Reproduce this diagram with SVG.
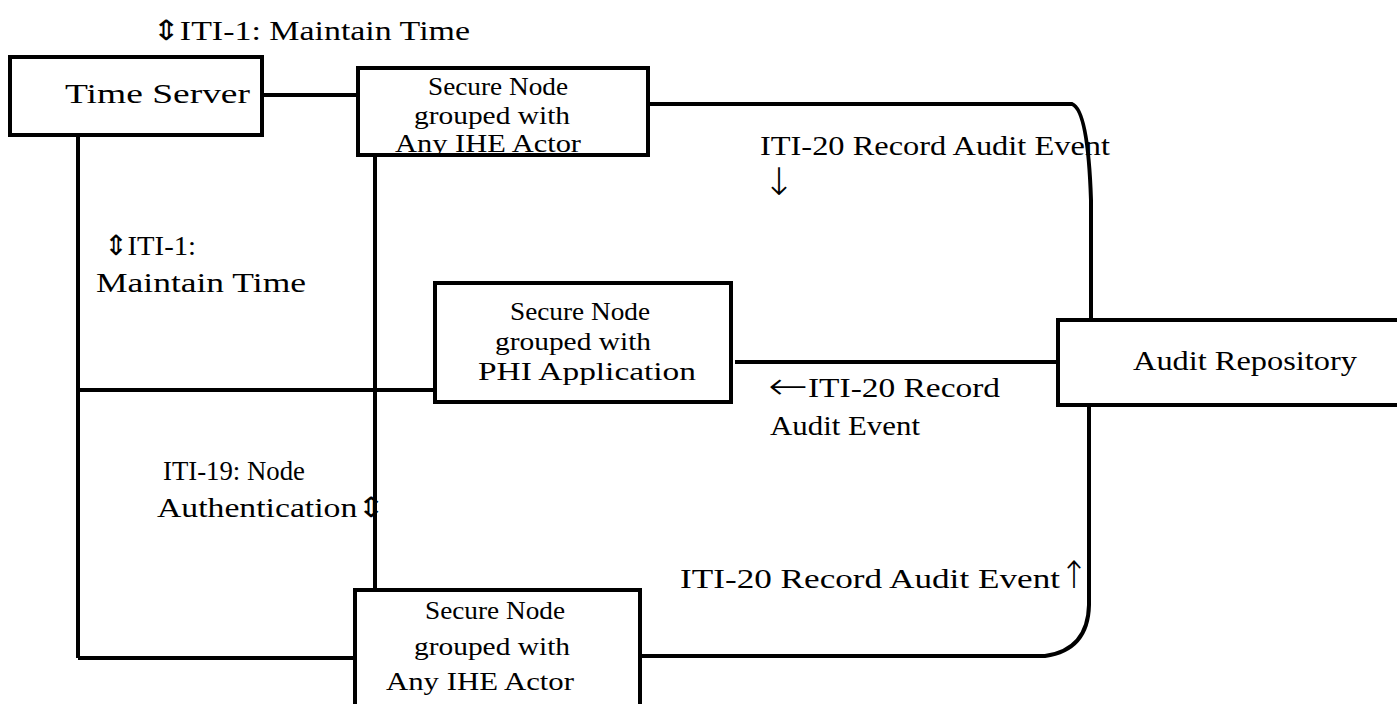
<svg xmlns="http://www.w3.org/2000/svg" width="1397" height="704" viewBox="0 0 1397 704">
<style>
.box{fill:#fff;stroke:#000;stroke-width:4}
.ln{fill:none;stroke:#000;stroke-width:4}
text{font-family:"Liberation Serif","Times New Roman",serif;font-size:28px;fill:#000}
.n{font-size:26px}
.ar{font-size:38px;font-family:"DejaVu Sans","Liberation Sans",sans-serif;font-weight:200}
</style>
<rect width="1397" height="704" fill="#fff"/>
<g id="connectors">
<line class="ln" x1="262" y1="95" x2="358" y2="95"/>
<path class="ln" d="M648,104 L1072,104 Q1088,110 1091,200 L1091,320"/>
<line class="ln" x1="735" y1="362" x2="1058" y2="362"/>
<path class="ln" d="M1089,405 L1089,605 Q1088,650 1045,656 L640,656"/>
<line class="ln" x1="78" y1="135" x2="78" y2="658"/>
<line class="ln" x1="78" y1="658" x2="355" y2="658"/>
<line class="ln" x1="78" y1="390" x2="435" y2="390"/>
<line class="ln" x1="375" y1="155" x2="375" y2="590"/>
</g>
<g id="time-server">
<rect class="box" x="10" y="57" width="252" height="78"/>
<text x="65" y="103" textLength="185" lengthAdjust="spacingAndGlyphs">Time Server</text>
</g>
<g id="secure-node-top">
<rect class="box" x="358" y="68" width="290" height="87"/>
<text class="n" x="428" y="95" textLength="140" lengthAdjust="spacingAndGlyphs">Secure Node</text>
<text class="n" x="414" y="124" textLength="156" lengthAdjust="spacingAndGlyphs">grouped with</text>
<text class="n" x="395" y="152" textLength="186" lengthAdjust="spacingAndGlyphs">Any IHE Actor</text>
</g>
<g id="secure-node-phi">
<rect class="box" x="435" y="283" width="296" height="119"/>
<text class="n" x="510" y="320" textLength="140" lengthAdjust="spacingAndGlyphs">Secure Node</text>
<text class="n" x="495" y="350" textLength="156" lengthAdjust="spacingAndGlyphs">grouped with</text>
<text class="n" x="478" y="380" textLength="218" lengthAdjust="spacingAndGlyphs">PHI Application</text>
</g>
<g id="audit-repository">
<rect class="box" x="1058" y="320" width="345" height="85"/>
<text x="1133" y="370" textLength="224" lengthAdjust="spacingAndGlyphs">Audit Repository</text>
</g>
<g id="secure-node-bottom">
<rect class="box" x="355" y="590" width="285" height="120"/>
<text class="n" x="425" y="619" textLength="140" lengthAdjust="spacingAndGlyphs">Secure Node</text>
<text class="n" x="414" y="655" textLength="156" lengthAdjust="spacingAndGlyphs">grouped with</text>
<text class="n" x="386" y="690" textLength="188" lengthAdjust="spacingAndGlyphs">Any IHE Actor</text>
</g>
<g id="labels">
<text x="152" y="40" textLength="318" lengthAdjust="spacingAndGlyphs">⇕ITI-1: Maintain Time</text>
<text x="760" y="155" textLength="350" lengthAdjust="spacingAndGlyphs">ITI-20 Record Audit Event</text>
<text class="ar" x="763" y="195" textLength="32" lengthAdjust="spacingAndGlyphs">↓</text>
<text x="104" y="255" textLength="92" lengthAdjust="spacingAndGlyphs">⇕ITI-1:</text>
<text x="96" y="292" textLength="210" lengthAdjust="spacingAndGlyphs">Maintain Time</text>
<text class="ar" x="768" y="399" textLength="40" lengthAdjust="spacingAndGlyphs">←</text>
<text x="808" y="397" textLength="192" lengthAdjust="spacingAndGlyphs">ITI-20 Record</text>
<text x="770" y="435" textLength="150" lengthAdjust="spacingAndGlyphs">Audit Event</text>
<text x="163" y="480" textLength="142" lengthAdjust="spacingAndGlyphs">ITI-19: Node</text>
<text x="157" y="517" textLength="228" lengthAdjust="spacingAndGlyphs">Authentication⇕</text>
<text x="680" y="588" textLength="380" lengthAdjust="spacingAndGlyphs">ITI-20 Record Audit Event</text>
<text class="ar" x="1060" y="588" textLength="28" lengthAdjust="spacingAndGlyphs">↑</text>
</g>
</svg>
